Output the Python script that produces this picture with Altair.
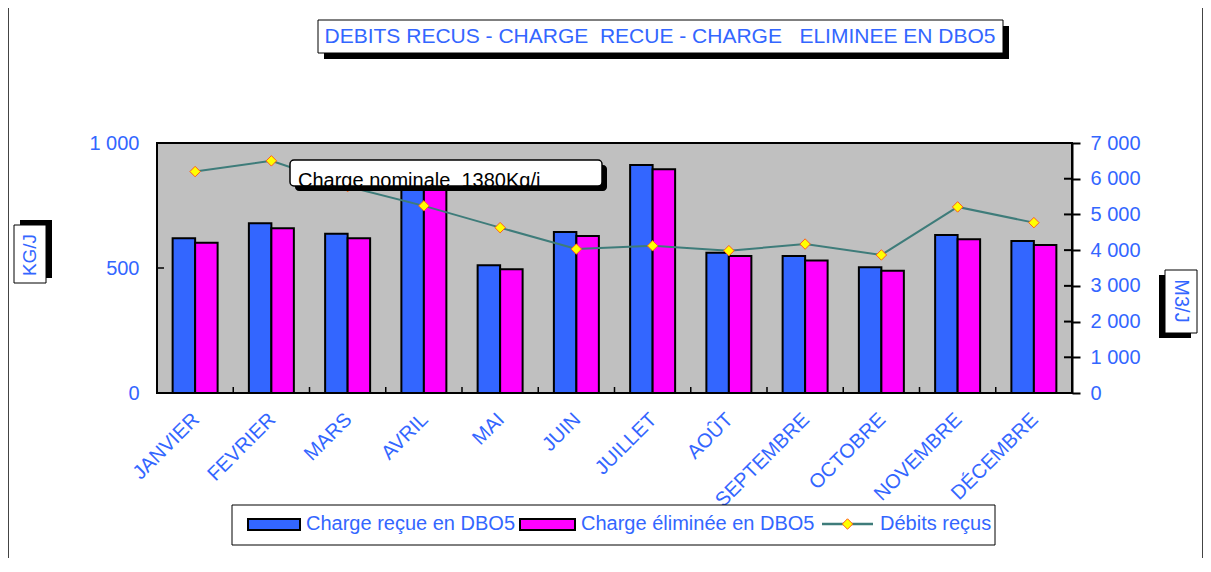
import altair as alt
import pandas as pd

# ---------------- data ----------------
months = ["JANVIER", "FEVRIER", "MARS", "AVRIL", "MAI", "JUIN", "JUILLET",
          "AOÛT", "SEPTEMBRE", "OCTOBRE", "NOVEMBRE", "DÉCEMBRE"]
charge_recue = [619, 679, 637, 860, 511, 644, 912, 561, 548, 503, 632, 608]
charge_eliminee = [601, 659, 619, 850, 495, 628, 895, 548, 530, 489, 615, 592]
debits = [6200, 6500, 5780, 5240, 4630, 4030, 4120, 3985, 4170, 3865, 5210, 4770]
series_names = ["Charge reçue en DBO5", "Charge éliminée en DBO5", "Débits reçus"]
left_ticks = [0, 500, 1000]
right_ticks = [0, 1000, 2000, 3000, 4000, 5000, 6000, 7000]

NB = "\u00a0"
title_text = "DEBITS RECUS - CHARGE" + NB + " RECUE - CHARGE" + NB + NB + " ELIMINEE EN DBO5"
note_text = "Charge nominale" + NB + " 1380Kg/j"
left_title = "KG/J"
right_title = "M3/J"

# ---------------- style ----------------
FONT = "Liberation Sans"
BLUE_TXT = "#3366FF"
BAR_COLORS = ["#3366FF", "#FF00FF"]
LINE_COLOR = "#3E7C7A"
FS = 20
PAD_IN = 0.41
PLOT_W = 915

bars_df = pd.DataFrame({
    "month": months * 2,
    "series": [series_names[0]] * len(months) + [series_names[1]] * len(months),
    "value": charge_recue + charge_eliminee,
})
line_df = pd.DataFrame({"month": months, "debit": debits})
lt_df = pd.DataFrame({"value": left_ticks})
rt_df = pd.DataFrame({"debit": right_ticks})
bound_df = pd.DataFrame({"month": months[1:]})
one = pd.DataFrame({"k": [0]})

fmt_expr = "replace(format(datum.value, ','), ',', ' ')"

x_scale = alt.Scale(domain=months, paddingInner=PAD_IN, paddingOuter=PAD_IN / 2)
x_axis = alt.Axis(title=None, labelAngle=-45, labelAlign="right", labelBaseline="top",
                  labelPadding=16, labelOffset=-6, labelColor=BLUE_TXT, labelFont=FONT,
                  labelFontSize=FS, domain=False, ticks=False, grid=False,
                  labelOverlap=False, labelLimit=0)
X = alt.X("month:N", scale=x_scale, axis=x_axis)

yl = alt.Y("value:Q", scale=alt.Scale(domain=[0, 1000], nice=False),
           axis=alt.Axis(orient="left", values=left_ticks, title=None, ticks=False,
                         tickSize=0, domain=False, grid=False, labelPadding=18,
                         labelColor=BLUE_TXT, labelFont=FONT, labelFontSize=FS,
                         labelExpr=fmt_expr, labelOverlap=False))
yr = alt.Y("debit:Q", scale=alt.Scale(domain=[0, 7000], nice=False),
           axis=alt.Axis(orient="right", values=right_ticks, title=None, ticks=True,
                         tickSize=8, tickWidth=2, tickColor="black", domain=True,
                         domainColor="black", domainWidth=2, grid=False, labelPadding=10,
                         labelColor=BLUE_TXT, labelFont=FONT, labelFontSize=FS,
                         labelExpr=fmt_expr, labelOverlap=False))

bars = alt.Chart(bars_df).mark_bar(stroke="black", strokeWidth=2).encode(
    x=X,
    xOffset=alt.XOffset("series:N", sort=series_names[:2],
                        scale=alt.Scale(domain=series_names[:2], paddingInner=0, paddingOuter=0)),
    y=yl,
    color=alt.Color("series:N", scale=alt.Scale(domain=series_names[:2], range=BAR_COLORS),
                    legend=None),
)
left_inner_ticks = alt.Chart(lt_df).mark_rule(color="black", strokeWidth=1.5).encode(
    y=yl, x=alt.value(0), x2=alt.value(7))
# category-boundary ticks: band start shifted back by half the inner padding
half_gap = PAD_IN / 2 * PLOT_W / len(months)
bound_ticks = alt.Chart(bound_df).mark_rule(color="black", strokeWidth=1.5,
                                            xOffset=-half_gap).encode(
    x=alt.X("month:N", scale=x_scale, axis=x_axis, bandPosition=0),
    y=alt.value(244), y2=alt.value(250))
bar_layer = alt.layer(bars, left_inner_ticks, bound_ticks)

line = alt.Chart(line_df).mark_line(color=LINE_COLOR, strokeWidth=2).encode(x=X, y=yr)
pts = alt.Chart(line_df).mark_point(shape="diamond", filled=True, fill="#FFFF00",
                                    stroke="#FF5A1F", strokeWidth=1, size=110,
                                    opacity=1).encode(x=X, y=yr)
right_inner_ticks = alt.Chart(rt_df).mark_rule(color="black", strokeWidth=2).encode(
    y=yr, x=alt.value(907), x2=alt.value(915))
line_layer = alt.layer(line, pts, right_inner_ticks)


def rect(x, x2, y, y2, fill, stroke=None, sw=0, cr=0):
    kw = dict(fill=fill, strokeWidth=sw, cornerRadius=cr)
    if stroke:
        kw["stroke"] = stroke
    return alt.Chart(one).mark_rect(**kw).encode(
        x=alt.value(x), x2=alt.value(x2), y=alt.value(y), y2=alt.value(y2))


def text(t, x, y, color=BLUE_TXT, size=FS, align="center", baseline="middle", angle=0):
    kw = dict(text=t, font=FONT, fontSize=size, color=color, align=align, baseline=baseline)
    if angle:
        kw["angle"] = angle
    return alt.Chart(one).mark_text(**kw).encode(x=alt.value(x), y=alt.value(y))


decos = [
    # outer frame
    alt.Chart(one).mark_rule(color="#444444", strokeWidth=1).encode(
        x=alt.value(-148.5), y=alt.value(-135), y2=alt.value(415)),
    alt.Chart(one).mark_rule(color="#444444", strokeWidth=1).encode(
        x=alt.value(1045.5), y=alt.value(-135), y2=alt.value(415)),
    # title box
    rect(167, 852, -117, -84, "black"),
    rect(161, 846, -123, -90, "white", "black", 1),
    text(title_text, 503, -106, size=21),
    # left axis title
    rect(-137, -105, 77, 135, "black"),
    rect(-143, -111, 82, 140, "white", "black", 1),
    text(left_title, -127, 112, size=19, angle=270),
    # right axis title
    rect(1002, 1034, 132, 195, "black"),
    rect(1008, 1040, 127, 190, "white", "black", 1),
    text(right_title, 1024, 158, size=20, angle=90),
    # annotation
    rect(138, 450, 22, 48, "black", cr=4),
    rect(133, 445, 17, 43, "white", "black", 1.5, cr=4),
    text(note_text, 141, 43.5, color="black", size=20, align="left", baseline="alphabetic"),
    # legend
    rect(75, 838, 362, 402, "white", "black", 1),
    rect(91, 143, 376, 387, BAR_COLORS[0], "black", 2),
    text(series_names[0], 149, 381, align="left"),
    rect(363, 418, 376, 387, BAR_COLORS[1], "black", 2),
    text(series_names[1], 424, 381, align="left"),
    alt.Chart(one).mark_rule(color=LINE_COLOR, strokeWidth=2.5).encode(
        x=alt.value(665), x2=alt.value(716), y=alt.value(381)),
    alt.Chart(one).mark_point(shape="diamond", filled=True, fill="#FFFF00", stroke="#FF5A1F",
                              strokeWidth=1, size=110, opacity=1).encode(
        x=alt.value(690.5), y=alt.value(381)),
    text(series_names[2], 723, 381, align="left"),
]

chart = alt.layer(bar_layer, line_layer, *decos).resolve_scale(y="independent").properties(
    width=PLOT_W, height=250,
    autosize=alt.AutoSizeParams(type="none"),
    padding={"left": 149, "top": 135, "right": 131, "bottom": 165},
    background="white",
).configure(font=FONT).configure_view(stroke="black", strokeWidth=2, fill="#C0C0C0")

chart.save("out.html", embed_options={"renderer": "svg", "actions": False})
